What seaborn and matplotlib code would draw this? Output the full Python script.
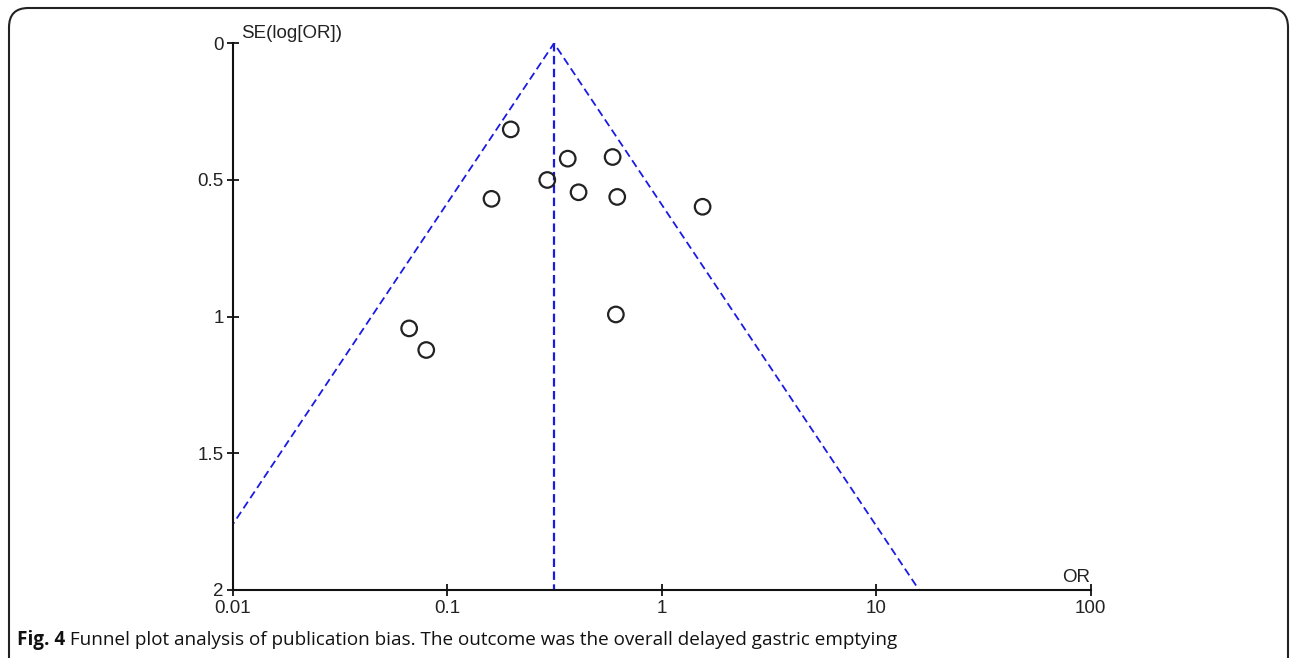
import numpy as np
import pandas as pd
import matplotlib
matplotlib.use("Agg")
import matplotlib.pyplot as plt
from matplotlib.patches import FancyBboxPatch
import seaborn as sns

# ---- data ----
odds_ratio = [0.198, 0.365, 0.591, 0.293, 0.410, 0.161, 0.621, 1.553, 0.0665, 0.0799, 0.612]
se_log_or = [0.315, 0.422, 0.416, 0.500, 0.545, 0.569, 0.562, 0.598, 1.043, 1.122, 0.992]
pooled_or = 0.315
funnel_se = [0.0, 2.0]
x_ticks = [0.01, 0.1, 1, 10, 100]
x_tick_labels = ["0.01", "0.1", "1", "10", "100"]
y_ticks = [0, 0.5, 1, 1.5, 2]
y_tick_labels = ["0", "0.5", "1", "1.5", "2"]
caption_bold = "Fig. 4"
caption_text = " Funnel plot analysis of publication bias. The outcome was the overall delayed gastric emptying"

sns.set_theme(style="white")
plt.rcParams["font.family"] = ["Liberation Sans", "DejaVu Sans"]

W, H = 1290, 658
fig = plt.figure(figsize=(W / 100, H / 100), dpi=100)
ax = fig.add_axes([232.7 / W, 1 - 590 / H, (1090.5 - 232.7) / W, (590 - 43.3) / H])

df = pd.DataFrame({"OR": odds_ratio, "SE": se_log_or})

blue = "#1a1ae6"
# funnel
se_arr = np.array(funnel_se)
lower = pooled_or * np.exp(-1.96 * se_arr)
upper = pooled_or * np.exp(1.96 * se_arr)
funnel = pd.DataFrame({
    "x": [lower[1], lower[0], upper[0], upper[1]],
    "y": [se_arr[1], se_arr[0], se_arr[0], se_arr[1]],
})
sns.lineplot(data=funnel, x="x", y="y", sort=False, estimator=None, ax=ax,
             color=blue, linewidth=1.3, linestyle=(0, (4.4, 2.4)))
center = pd.DataFrame({"x": [pooled_or, pooled_or], "y": funnel_se})
sns.lineplot(data=center, x="x", y="y", sort=False, estimator=None, ax=ax,
             color=blue, linewidth=1.6, linestyle=(0, (3.8, 2.0)))

sns.scatterplot(data=df, x="OR", y="SE", ax=ax, s=125, facecolor="none",
                edgecolor="#222222", linewidth=1.6, zorder=5)

ax.set_xscale("log")
ax.set_xlim(0.01, 100)
ax.set_ylim(2, 0)
ax.set_xticks(x_ticks)
ax.set_xticklabels(x_tick_labels)
ax.set_yticks(y_ticks)
ax.set_yticklabels(y_tick_labels)
ax.minorticks_off()
ax.set_xlabel("")
ax.set_ylabel("")
for s in ["top", "right"]:
    ax.spines[s].set_visible(False)
for s in ["left", "bottom"]:
    ax.spines[s].set_color("#111111")
    ax.spines[s].set_linewidth(1.5)
ax.tick_params(axis="both", direction="inout", length=9, width=1.3, color="#111111",
               labelsize=13.5, labelcolor="#222222", left=True, bottom=True)
ax.tick_params(axis="x", pad=2.5)
ax.tick_params(axis="y", pad=2)
ax.set_facecolor("white")

fig.text(241 / W, 1 - 33 / H, "SE(log[OR])", fontsize=13.5, color="#222222",
         ha="left", va="center")
fig.text(1076 / W, 1 - 577 / H, "OR", fontsize=13.5, color="#222222",
         ha="center", va="center")

# rounded frame
frame = FancyBboxPatch((9 / W, -20 / H), (1288 - 9) / W, (650 + 20) / H,
                       boxstyle="round,pad=0,rounding_size=0.015",
                       transform=fig.transFigure, fill=False,
                       edgecolor="#222222", linewidth=1.5, mutation_aspect=W / H)
fig.patches.append(frame)

t1 = fig.text(17 / W, 1 - 640 / H, caption_bold, fontsize=13.6, fontweight="bold",
              color="#111111", ha="left", va="center", family=["Open Sans", "DejaVu Sans"])
fig.canvas.draw()
bb = t1.get_window_extent()
fig.text(bb.x1 / W, 1 - 640 / H, caption_text, fontsize=13.6, color="#111111",
         ha="left", va="center", family=["Open Sans", "DejaVu Sans"])

fig.savefig("out.png", dpi=100)
